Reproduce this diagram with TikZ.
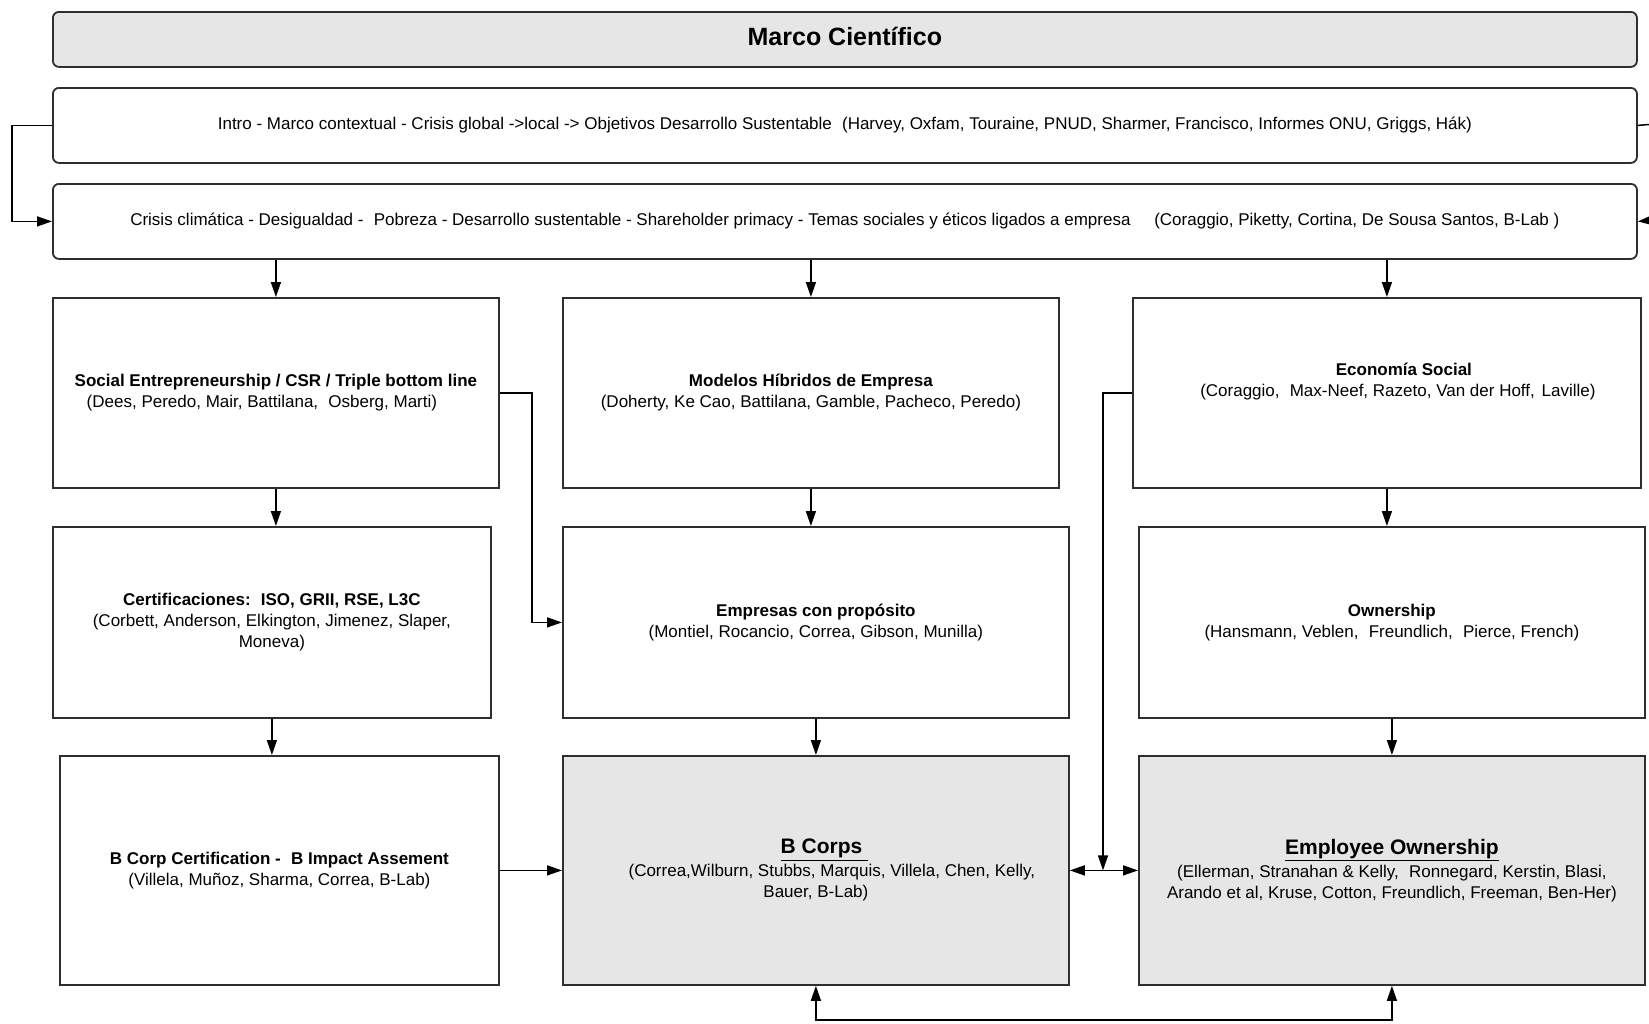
\documentclass[tikz,border=0pt]{standalone}
\usepackage{fontspec}
\setmainfont{Liberation Sans}
\usetikzlibrary{arrows.meta}

\definecolor{boxline}{HTML}{2E2E2E}
\definecolor{boxfill}{HTML}{E6E6E6}

\begin{document}
\begin{tikzpicture}[x=1pt,y=-1pt,
  panel/.style={draw=boxline, line width=1.8pt, fill=white, anchor=north west,
    align=center, inner sep=0pt, font=\fontsize{17}{21}\selectfont},
  banner/.style={panel, rounded corners=6pt},
  shaded/.style={fill=boxfill},
  wire/.style={draw=black, line width=1.5pt},
  link/.style={wire, -{Triangle[length=15pt,width=10pt]}},
  twoway/.style={wire, {Triangle[length=15pt,width=10pt]}-{Triangle[length=15pt,width=10pt]}},
  bigtitle/.style={font=\fontsize{25}{29}\selectfont\bfseries}
]
\useasboundingbox (0,0) rectangle (1649,1023);

% header bands
\node[banner, shaded, bigtitle, minimum width=1584pt, minimum height=55pt] (title) at (52,11) {\raisebox{6pt}{Marco Científico}};
\node[banner, minimum width=1584pt, minimum height=75pt] (intro) at (52,87)
  {Intro - Marco contextual - Crisis global ->local -> Objetivos Desarrollo Sustentable\hspace{0.6em}(Harvey, Oxfam, Touraine, PNUD, Sharmer, Francisco, Informes ONU, Griggs, Hák)};
\node[banner, minimum width=1584pt, minimum height=75pt] (crisis) at (52,183)
  {Crisis climática - Desigualdad -\hspace{0.6em}Pobreza - Desarrollo sustentable - Shareholder primacy - Temas sociales y éticos ligados a empresa\hspace{1.4em}(Coraggio, Piketty, Cortina, De Sousa Santos, B-Lab )};

% first row
\node[panel, minimum width=446pt, minimum height=190pt] (social) at (52,297)
  {\textbf{Social Entrepreneurship / CSR / Triple bottom line}\\(Dees, Peredo, Mair, Battilana,\hspace{0.6em}Osberg, Marti)\hspace*{28pt}};
\node[panel, minimum width=496pt, minimum height=190pt] (modelos) at (562,297)
  {\textbf{Modelos Híbridos de Empresa}\\(Doherty, Ke Cao, Battilana, Gamble, Pacheco, Peredo)};
\node[panel, minimum width=508pt, minimum height=190pt] (economia) at (1132,297)
  {\hspace*{34pt}\textbf{Economía Social}\\\hspace*{22pt}(Coraggio,\hspace{0.6em}Max-Neef, Razeto, Van der Hoff,\hspace{0.4em}Laville)\\[6pt]\mbox{}};

% second row
\node[panel, minimum width=438pt, minimum height=191pt] (cert) at (52,526)
  {\textbf{Certificaciones:\hspace{0.6em}ISO, GRII, RSE, L3C}\\(Corbett, Anderson, Elkington, Jimenez, Slaper,\\Moneva)};
\node[panel, minimum width=506pt, minimum height=191pt] (empresas) at (562,526)
  {\textbf{Empresas con propósito}\\(Montiel, Rocancio, Correa, Gibson, Munilla)};
\node[panel, minimum width=506pt, minimum height=191pt] (ownership) at (1138,526)
  {\textbf{Ownership}\\(Hansmann, Veblen,\hspace{0.6em}Freundlich,\hspace{0.6em}Pierce, French)};

% third row
\node[panel, minimum width=439pt, minimum height=229pt] (bcert) at (59,755)
  {\textbf{B Corp Certification -\hspace{0.6em}B Impact Assement}\\(Villela, Muñoz, Sharma, Correa, B-Lab)};
\node[panel, shaded, minimum width=506pt, minimum height=229pt] (bcorps) at (562,755)
  {\hspace*{17pt}{\fontsize{21}{25}\selectfont\bfseries\underline{B Corps\ }}\\[2pt]\hspace*{32pt}(Correa,Wilburn, Stubbs, Marquis, Villela, Chen, Kelly,\\Bauer, B-Lab)};
\node[panel, shaded, minimum width=506pt, minimum height=229pt] (employee) at (1138,755)
  {{\fontsize{21}{25}\selectfont\bfseries\underline{Employee Ownership}}\\[2pt](Ellerman, Stranahan \& Kelly,\hspace{0.6em}Ronnegard, Kerstin, Blasi,\\Arando et al, Kruse, Cotton, Freundlich, Freeman, Ben-Her)};

% loops between the two bands
\draw[link] (intro.west) -- ++(-40,0) |- (crisis.west);
\coordinate (edgetop) at (1649,124.5);
\coordinate (edgebot) at (1649,220.5);
\draw[wire] (intro.east) -- (edgetop);
\draw[link] (edgebot) -- (crisis.east);

% band to first row
\draw[link] (crisis.south -| social.north) -- (social.north);
\draw[link] (crisis.south -| modelos.north) -- (modelos.north);
\draw[link] (crisis.south -| economia.north) -- (economia.north);

% vertical flow
\draw[link] (social.south) -- (social.south |- cert.north);
\draw[link] (modelos.south) -- (modelos.south |- empresas.north);
\draw[link] (economia.south) -- (economia.south |- ownership.north);
\draw[link] (cert.south) -- (cert.south |- bcert.north);
\draw[link] (empresas.south) -- (empresas.south |- bcorps.north);
\draw[link] (ownership.south) -- (ownership.south |- employee.north);

% cross links
\draw[link] (social.east) -- ++(32,0) |- (empresas.west);
\draw[link] (economia.west) -- ++(-29,0) coordinate (drop) -- (drop |- bcorps.east);
\draw[twoway] (bcorps.east) -- (employee.west);
\draw[link] (bcert.east) -- (bcorps.west);
\coordinate (foot) at (0,1020);
\draw[twoway] (bcorps.south) -- (bcorps.south |- foot) -| (employee.south);
\end{tikzpicture}
\end{document}
